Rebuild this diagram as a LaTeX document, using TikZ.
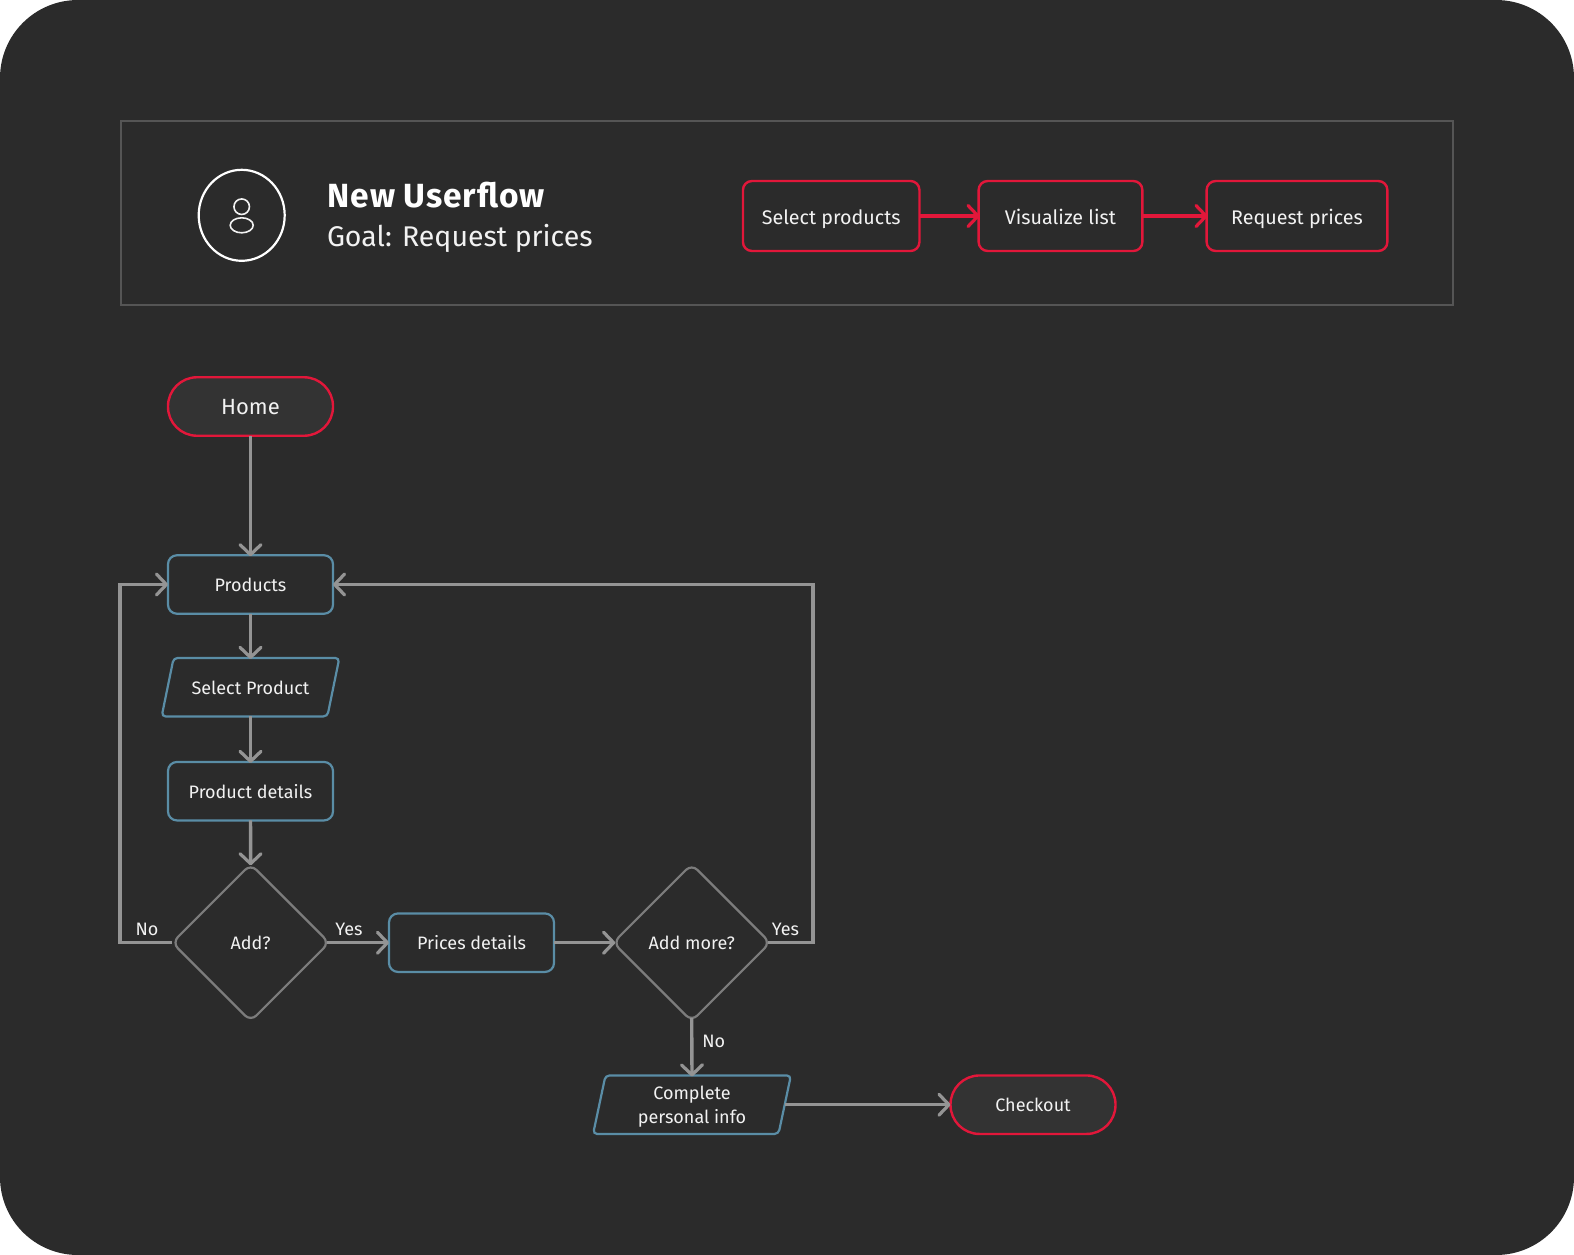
\documentclass[tikz,border=0pt]{standalone}
\usepackage{fontspec}
\setmainfont{Fira Sans}
\usetikzlibrary{arrows.meta,shapes.geometric,calc}
\definecolor{bg}{HTML}{2B2B2B}
\definecolor{fillp}{HTML}{333333}
\definecolor{frameg}{HTML}{555555}
\definecolor{redc}{HTML}{E2173A}
\definecolor{bluec}{HTML}{5A8DA6}
\definecolor{greyc}{HTML}{949494}
\definecolor{diag}{HTML}{7C7C7C}
\definecolor{txt}{HTML}{F2F2F2}
\tikzset{
  x=1pt,y=-1pt,outer sep=0pt,
  lbl/.style={text=txt,font=\fontsize{18}{24}\selectfont,inner sep=0pt},
  redbox/.style={draw=redc,line width=2.4pt,rounded corners=9pt,minimum height=70pt,inner sep=0pt,text=txt,font=\fontsize{19.7}{24}\selectfont,text height=20pt,text depth=4pt},
  bluebox/.style={draw=bluec,line width=2.2pt,rounded corners=9pt,minimum width=165pt,minimum height=58.5pt,inner sep=0pt,text=txt,font=\fontsize{18}{24}\selectfont,text height=18pt,text depth=4pt},
  pill/.style={draw=redc,fill=fillp,line width=2.4pt,rounded corners=29pt,minimum height=58.5pt,inner sep=0pt,text=txt},
  para/.style={inner sep=0pt,minimum height=58.5pt,text=txt,align=center,font=\fontsize{18}{24}\selectfont,text height=18pt,text depth=4pt},
  paraline/.style={draw=bluec,line width=2.2pt,rounded corners=4pt},
  dec/.style={draw=diag,line width=2.2pt,diamond,rounded corners=8pt,minimum width=157pt,minimum height=157pt,inner sep=0pt,text=txt,font=\fontsize{18}{24}\selectfont},
  flow/.style={draw=greyc,line width=3.4pt,-{Straight Barb[length=10pt,width=21pt,line width=3.2pt,round]}},
  vflow/.style={flow,shorten >=-1pt},
  redflow/.style={draw=redc,line width=3.2pt,shorten >=-1pt,-{Straight Barb[length=10pt,width=21pt,line width=3.2pt,round]}},
}
\begin{document}
\begin{tikzpicture}
\useasboundingbox (0,0) rectangle (1574,1255);
\fill[white] (0,0) rectangle (1574,1255);
\fill[bg,rounded corners=78pt] (0,0) rectangle (1574,1255);
\node[draw=frameg,line width=2pt,minimum width=1332pt,minimum height=184pt,inner sep=0pt] (frame) at (787,213) {};
\node[draw=white,line width=2.2pt,ellipse,minimum width=86pt,minimum height=91pt,inner sep=0pt] (avatar) at (241.7,215.3) {};
\node[draw=txt,line width=1.6pt,circle,minimum size=15.5pt,inner sep=0pt] (head) at (241.7,206.7) {};
\node[draw=txt,line width=1.6pt,ellipse,minimum width=23pt,minimum height=15pt,inner sep=0pt] (body) at (241.7,225.3) {};
\node[anchor=base west,inner sep=0pt,text=white,font=\fontsize{33.5}{36}\selectfont\bfseries\addfontfeature{LetterSpace=2.7}] (title) at (327.5,207.5) {New Userflow};
\node[anchor=base west,inner sep=0pt,text=txt,font=\fontsize{28.5}{36}\selectfont] (goal) at (327,246.5) {Goal: Request prices};
\node[redbox,minimum width=176.5pt] (s1) at (831.2,216) {Select products};
\node[redbox,minimum width=163.7pt] (s2) at (1060.5,216) {Visualize list};
\node[redbox,minimum width=180.7pt] (s3) at (1297,216) {Request prices};
\draw[redflow] (s1) -- (s2);
\draw[redflow] (s2) -- (s3);
\node[pill,minimum width=165pt,font=\fontsize{22}{26}\selectfont,text height=21pt,text depth=4.5pt] (home) at (250.5,406.5) {Home};
\node[bluebox] (products) at (250.5,584.5) {Products};
\node[para,minimum width=165.7pt] (select) at (250.5,687.2) {Select Product};
\draw[paraline] ($(select.south west)+(-6,0)$) -- ($(select.north west)+(6,0)$) -- ($(select.north east)+(6,0)$) -- ($(select.south east)+(-6,0)$) -- cycle;
\node[bluebox] (details) at (250.5,791.2) {Product details};
\node[dec] (add) at (250.7,942.7) {Add?};
\node[bluebox] (prices) at (471.5,942.7) {Prices details};
\node[dec] (more) at (691.7,942.7) {Add more?};
\node[para,minimum width=185.4pt,text height=42pt,text depth=4pt] (personal) at (692,1104.7) {Complete\\personal info};
\draw[paraline] ($(personal.south west)+(-6.2,0)$) -- ($(personal.north west)+(6.2,0)$) -- ($(personal.north east)+(6.2,0)$) -- ($(personal.south east)+(-6.2,0)$) -- cycle;
\node[pill,minimum width=165pt,font=\fontsize{18}{24}\selectfont,text height=18pt,text depth=4pt] (checkout) at (1033,1104.7) {Checkout};
\draw[vflow] (home) -- (products);
\draw[vflow] (products) -- (select);
\draw[vflow] (select) -- (details);
\draw[vflow] (details) -- (add);
\draw[flow,shorten <=-2pt] (add.east) -- (prices.west);
\draw[flow,shorten >=-2pt] (prices.east) -- (more.west);
\draw[vflow,shorten <=-3pt] (more.south) -- (personal.north);
\draw[flow] (personal.east) -- (checkout.west);
\coordinate (leftc) at (120,942.7);
\coordinate (leftt) at (120,584.5);
\coordinate (rightc) at (813,942.7);
\coordinate (rightt) at (813,584.5);
\draw[flow] (add.west) -- (leftc) -- (leftt) -- (products.west);
\draw[flow,shorten <=-2pt] (more.east) -- (rightc) -- (rightt) -- (products.east);
\node[lbl] (lno1) at (147,929) {No};
\node[lbl] (lyes1) at (349,929) {Yes};
\node[lbl] (lyes2) at (785.5,929) {Yes};
\node[lbl] (lno2) at (713.7,1041) {No};
\end{tikzpicture}
\end{document}
